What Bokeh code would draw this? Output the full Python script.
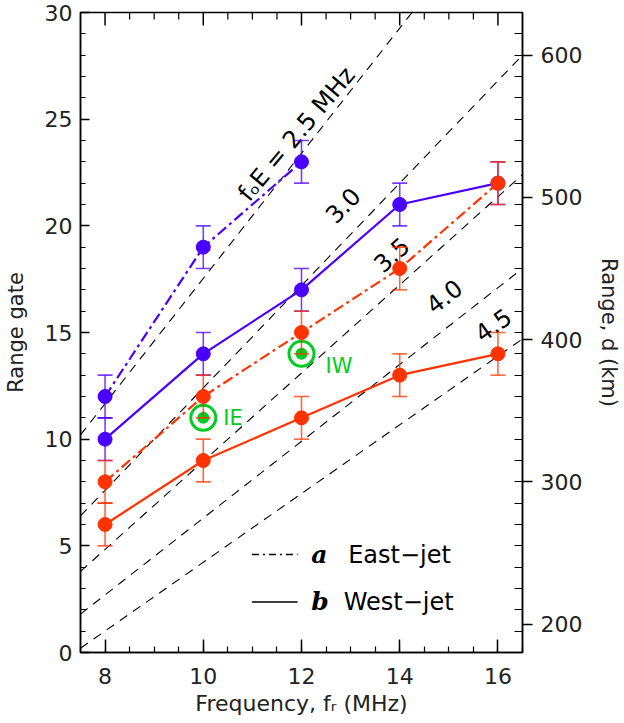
import math
from bokeh.plotting import figure
from bokeh.models import Range1d, LinearAxis, SingleIntervalTicker, FixedTicker
from bokeh.core.properties import value
from bokeh.embed import file_html
from bokeh.resources import INLINE

# ---------------- data ----------------
freq = [8, 10, 12, 14, 16]                 # MHz
east_freq_blue = [8, 10, 12]
east_jet_blue = [12, 19, 23]               # range gate
west_jet_blue = [10, 14, 17, 21, 22]
east_jet_red = [8, 12, 15, 18, 22]
west_jet_red = [6, 9, 11, 13, 14]
gate_error = 1                             # +/- error bar in gates

marker_freq = [10, 12]
marker_gate = [11, 14]
marker_labels = ["IE", "IW"]

foe_labels = ["fₒE = 2.5 MHz", "3.0", "3.5", "4.0", "4.5"]
foe_line_freq = [7.5, 16.5]
foe_gate_start = [10.2, 6.4, 3.8, 1.8, 0.2]     # gate at 7.5 MHz
foe_gate_end = [36.6, 28.0, 22.4, 18.0, 14.7]   # gate at 16.5 MHz

x_ticks_interval = 2
x_minor_interval = 0.5
y_ticks_interval = 5
km_ticks = [200, 300, 400, 500, 600]
km_at_gate0 = 180
km_per_gate = 15

legend_labels = ["East−jet", "West−jet"]
legend_letters = ["a", "b"]

# ---------------- layout / style constants ----------------
BLUE = "#4a00ff"
RED = "#ff3300"
GREEN = "#00cc22"
FONT = "DejaVu Sans"
X0, X1 = 7.5, 16.5
Y0, Y1 = 0, 30
W, H = 624, 723
B_LEFT, B_RIGHT, B_TOP, B_BOTTOM = 80, 101, 12, 71
FRAME_H = H - B_TOP - B_BOTTOM

foe_label_x = [11.90, 12.84, 13.83, 14.90, 15.90]
foe_label_y = [24.3, 20.97, 18.65, 16.7, 15.36]
foe_label_deg = [50, 46, 42, 38, 35]

leg_line_x = [10.99, 11.92]
leg_rows_y = [4.59, 2.37]
leg_letter_x = 12.20
leg_text_x = [12.95, 12.86]

p = figure(width=W, height=H, output_backend="svg", toolbar_location=None,
           x_range=Range1d(X0, X1), y_range=Range1d(Y0, Y1),
           x_axis_type=None, y_axis_type=None,
           min_border_left=B_LEFT, min_border_right=B_RIGHT, min_border_top=B_TOP,
           min_border_bottom=B_BOTTOM)
p.extra_y_ranges = {"km": Range1d(km_at_gate0 + km_per_gate * Y0,
                                  km_at_gate0 + km_per_gate * Y1)}
p.outline_line_color = "black"
p.outline_line_width = 1.5
p.background_fill_color = "white"
p.border_fill_color = "white"

xt = SingleIntervalTicker(interval=x_ticks_interval, num_minor_ticks=4)
yt = SingleIntervalTicker(interval=y_ticks_interval, num_minor_ticks=5)
km_minor = [km_at_gate0 + km_per_gate * g for g in range(Y0, Y1 + 1)]
kt = FixedTicker(ticks=km_ticks, minor_ticks=km_minor)


def style(ax):
    ax.axis_line_color = "black"
    ax.axis_line_width = 1.5
    ax.major_tick_line_color = "black"
    ax.major_tick_line_width = 1.5
    ax.minor_tick_line_color = "black"
    ax.minor_tick_line_width = 1.2
    ax.major_label_text_font = FONT
    ax.major_label_text_font_size = "22px"
    ax.major_label_text_color = "#222222"
    ax.axis_label_text_font = FONT
    ax.axis_label_text_font_style = "normal"
    ax.axis_label_text_font_size = "21px"
    ax.axis_label_text_color = "#222222"


bottom = LinearAxis(ticker=xt, axis_label="Frequency, fᵣ (MHz)")
style(bottom)
bottom.axis_label_text_font_size = "22px"
bottom.major_tick_in, bottom.major_tick_out = 13, 0
bottom.minor_tick_in, bottom.minor_tick_out = 6, 0
bottom.major_label_standoff = 15
bottom.axis_label_standoff = 4
p.add_layout(bottom, "below")

left = LinearAxis(ticker=yt, axis_label="Range gate")
style(left)
left.major_tick_in, left.major_tick_out = 9, 0
left.minor_tick_in, left.minor_tick_out = 5, 0
left.major_label_standoff = 8
left.axis_label_standoff = 14
p.add_layout(left, "left")

right = LinearAxis(y_range_name="km", ticker=kt, axis_label="Range, d (km)")
style(right)
right.major_tick_in, right.major_tick_out = 0, 10
right.minor_tick_in, right.minor_tick_out = 8, 0
right.major_label_standoff = 8
right.axis_label_standoff = 12
p.add_layout(right, "right")

# top-edge ticks (no labels), pointing down into the frame
gates_per_px = (Y1 - Y0) / FRAME_H
n_top = int(round((X1 - X0) / x_minor_interval))
top_x = [X0 + x_minor_interval * i for i in range(1, n_top)]
top_major = [x for x in top_x if abs(x / x_ticks_interval - round(x / x_ticks_interval)) < 1e-9]
top_minor = [x for x in top_x if x not in top_major]
p.segment(x0=top_major, y0=[Y1] * len(top_major), x1=top_major,
          y1=[Y1 - 13 * gates_per_px] * len(top_major), line_color="black", line_width=1.5)
p.segment(x0=top_minor, y0=[Y1] * len(top_minor), x1=top_minor,
          y1=[Y1 - 7 * gates_per_px] * len(top_minor), line_color="black", line_width=1.2)

# foE reference lines
p.multi_line(xs=[foe_line_freq for _ in foe_gate_start],
             ys=[[a, b] for a, b in zip(foe_gate_start, foe_gate_end)],
             line_color="black", line_width=1.1, line_dash="9 7")
p.text(x=foe_label_x, y=foe_label_y, text=foe_labels,
       angle=[math.radians(d) for d in foe_label_deg],
       text_font=value(FONT), text_font_size="24px", text_color="black",
       text_align="center", text_baseline="middle")

# data lines
DASHDOT = "11 4 3 4"
p.line(east_freq_blue, east_jet_blue, line_color=BLUE, line_width=2.2, line_dash=DASHDOT)
p.line(freq, west_jet_blue, line_color=BLUE, line_width=2.2)
p.line(freq, east_jet_red, line_color=RED, line_width=2.2, line_dash=DASHDOT)
p.line(freq, west_jet_red, line_color=RED, line_width=2.2)

# green IE / IW markers
p.scatter(marker_freq, marker_gate, marker="circle", size=25, fill_color=None,
          line_color=GREEN, line_width=3)
p.scatter(marker_freq, marker_gate, marker="circle", size=12, fill_color=GREEN,
          line_color=None)
p.text(x=marker_freq, y=marker_gate, text=marker_labels, x_offset=[20, 24],
       y_offset=[0, 12], text_font=value(FONT), text_font_size="21px",
       text_color=GREEN, text_align="left", text_baseline="middle")


def error_bars(xs, ys, color):
    lo = [y - gate_error for y in ys]
    hi = [y + gate_error for y in ys]
    p.segment(x0=xs, y0=lo, x1=xs, y1=hi, line_color=color, line_width=1.6, line_alpha=0.75)
    p.scatter(xs + xs, lo + hi, marker="dash", size=15, line_color=color,
              line_width=1.6, line_alpha=0.75)


error_bars(east_freq_blue, east_jet_blue, BLUE)
error_bars(freq, west_jet_blue, BLUE)
error_bars(freq, east_jet_red, RED)
error_bars(freq, west_jet_red, RED)

p.scatter(east_freq_blue, east_jet_blue, size=14, color=BLUE)
p.scatter(freq, west_jet_blue, size=14, color=BLUE)
p.scatter(freq, east_jet_red, size=14, color=RED)
p.scatter(freq, west_jet_red, size=14, color=RED)

# legend
p.line(leg_line_x, [leg_rows_y[0]] * 2, line_color="black", line_width=1.5, line_dash="7 4 2 4")
p.line(leg_line_x, [leg_rows_y[1]] * 2, line_color="black", line_width=1.5)
p.text(x=[leg_letter_x] * 2, y=leg_rows_y, text=legend_letters,
       text_font=value("DejaVu Serif"), text_font_style="bold italic",
       text_font_size="25px", text_color="black", text_align="left", text_baseline="middle")
p.text(x=leg_text_x, y=leg_rows_y, text=legend_labels,
       text_font=value(FONT), text_font_size="24px", text_color="black",
       text_align="left", text_baseline="middle")

open("out.html", "w").write(file_html(p, INLINE))
